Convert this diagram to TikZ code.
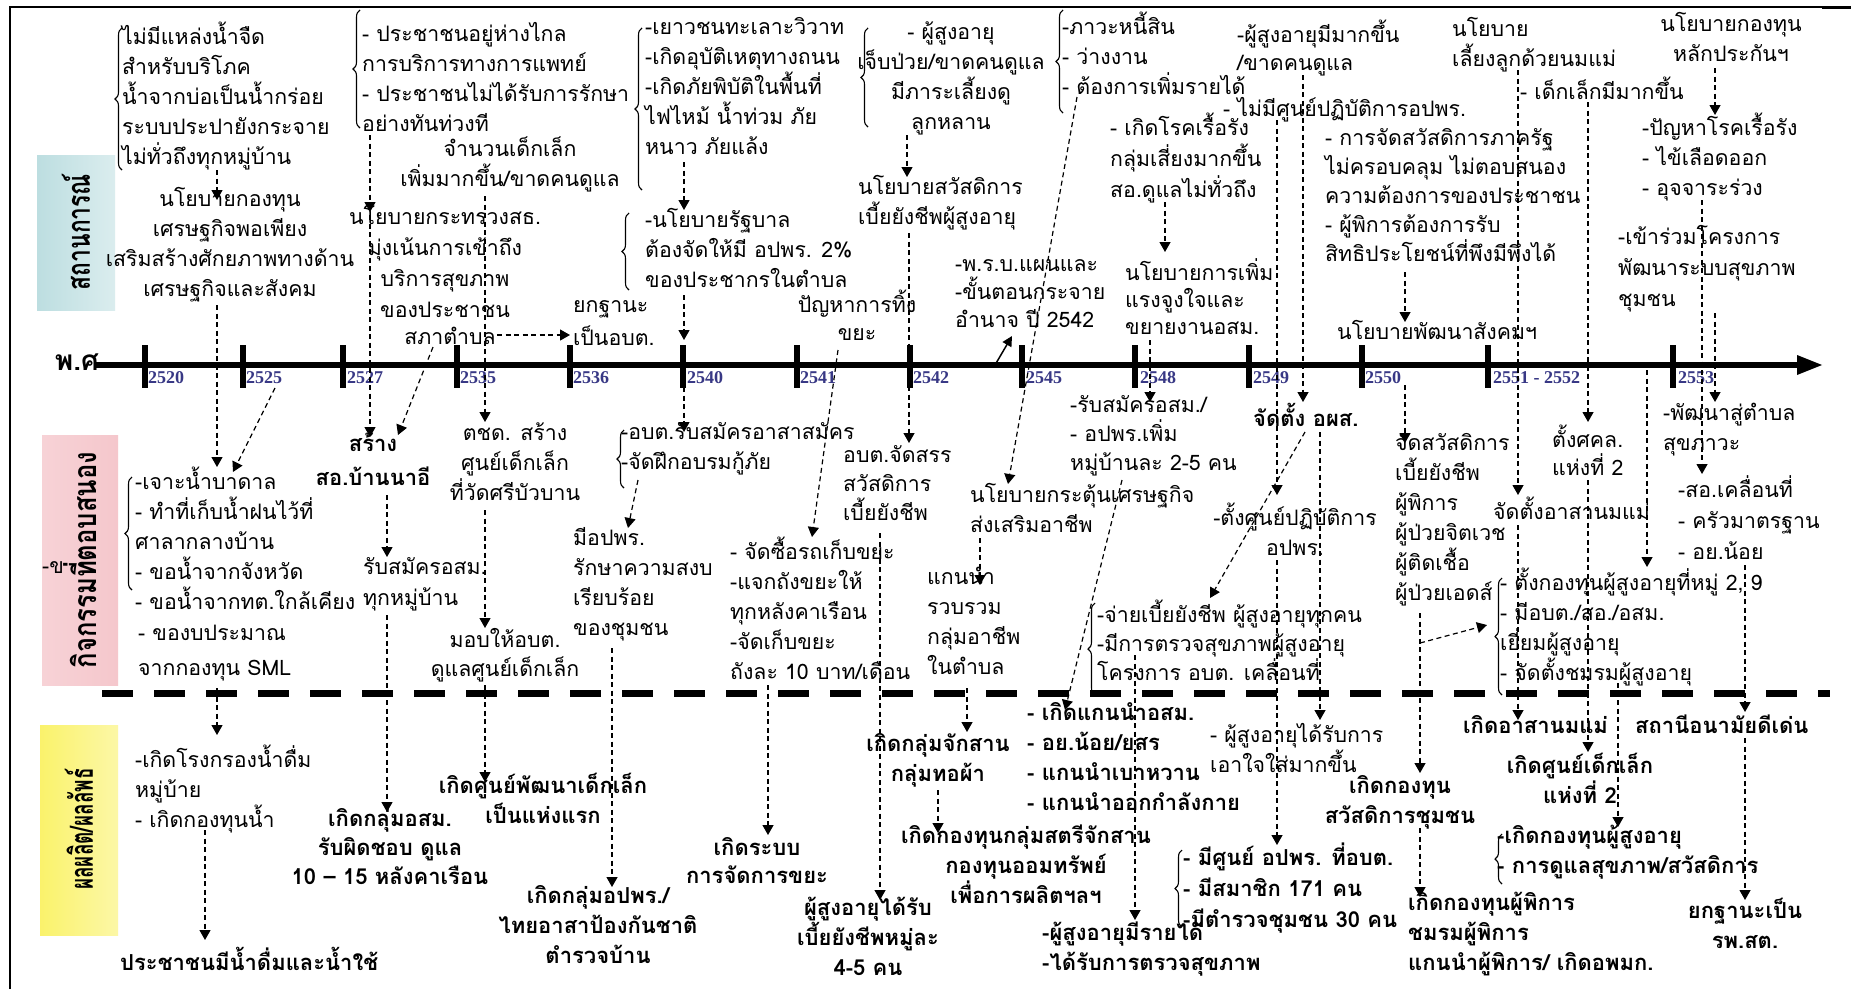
\documentclass[tikz,border=0pt]{standalone}
\usepackage{fontspec}
\usepackage{graphicx}
\usetikzlibrary{arrows.meta,decorations.pathreplacing}
\newfontfamily\thai[Script=Thai]{Loma}
\newfontfamily\thaicond[Script=Thai,FakeStretch=0.8]{Loma}
\newfontfamily\yrfont{Liberation Serif}
\newcommand\fs[1]{\thai\fontsize{21.3}{#1}\selectfont}
\newcommand\fsb[1]{\thai\bfseries\fontsize{22}{#1}\selectfont}
\definecolor{yr}{rgb}{0.22,0.22,0.52}
\definecolor{tealbox}{rgb}{0.74,0.87,0.88}
\definecolor{pinkbox}{rgb}{0.96,0.78,0.80}
\definecolor{yelbox}{rgb}{0.98,0.95,0.42}
\tikzset{
  tl/.style={inner sep=0pt, anchor=north west, align=left, font=\fs{30}, execute at begin node=\rule{0pt}{21pt}},
  tc/.style={inner sep=0pt, anchor=north, align=center, font=\fs{30}, execute at begin node=\rule{0pt}{21pt}},
  sp/.style={font=\fs{#1}},
  bsp/.style={font=\fsb{#1}},
  yrlab/.style={inner sep=0pt, anchor=west, text=yr, font=\yrfont\bfseries\fontsize{18}{18}\selectfont},
  cat/.style={rotate=90, inner sep=0pt, font=\thaicond\bfseries\fontsize{32}{32}\selectfont},
  arr/.style={line width=1.2pt, dash pattern=on 5pt off 3.5pt, -{Triangle[length=10pt,width=11pt]}},
  sarr/.style={line width=1.5pt, -{Triangle[length=10pt,width=10pt]}},
  brc/.style={decorate, decoration={brace, amplitude=7pt}, line width=1.1pt},
  tick/.style={line width=6pt},
}
\begin{document}
\begin{tikzpicture}[x=1pt,y=-1pt]
\useasboundingbox (0,0) rectangle (1851,989);
\fill[white] (0,0) rectangle (1851,989);
% frame
\draw[line width=1.5pt] (10,989) -- (10,7) -- (1851,7);
\draw[line width=3pt] (1822,7) -- (1851,7);
% category boxes
\shade[left color=tealbox, right color=tealbox!55!white] (37,155) rectangle (115,310);
\shade[left color=pinkbox!80!white, right color=pinkbox] (42,435) rectangle (118,685);
\shade[left color=yelbox, right color=yelbox!60!white] (40,725) rectangle (118,935);
\node[cat] (catA) at (76,232) {\scalebox{0.89}[1]{สถานการณ์}};
\node[cat] (catB) at (80,560) {กิจกรรมที่ตอบสนอง};
\node[cat] (catC) at (79,829) {\scalebox{0.74}[1]{ผลผลิต/ผลลัพธ์}};
\node[inner sep=0pt, font=\fs{20}] (kh) at (53,568) {-ข};
% axis
\draw[line width=6pt] (95,365) -- (1800,365);
\fill (1797,355) -- (1822,365) -- (1797,375) -- cycle;
\node[inner sep=0pt, font=\thai\bfseries\fontsize{28}{28}\selectfont] (pso) at (77,362) {พ.ศ};
\foreach \x in {145,243,343,457,570,683,797,910,1022,1135,1249,1362,1488,1673}
  \draw[tick] (\x,345) -- (\x,388);
\node[yrlab] (y1) at (148,378) {2520};
\node[yrlab] (y2) at (246,378) {2525};
\node[yrlab] (y3) at (347,378) {2527};
\node[yrlab] (y4) at (460,378) {2535};
\node[yrlab] (y5) at (573,378) {2536};
\node[yrlab] (y6) at (687,378) {2540};
\node[yrlab] (y7) at (800,378) {2541};
\node[yrlab] (y8) at (913,378) {2542};
\node[yrlab] (y9) at (1026,378) {2545};
\node[yrlab] (y10) at (1140,378) {2548};
\node[yrlab] (y11) at (1253,378) {2549};
\node[yrlab] (y12) at (1365,378) {2550};
\node[yrlab] (y13) at (1493,378) {2551 - 2552};
\node[yrlab] (y14) at (1678,378) {2553};
% separator
\draw[line width=7pt, dash pattern=on 31pt off 21pt] (102,693) -- (1830,693);

% ===== top section =====
\node[tl] (nA) at (122,22) {ไม่มีแหล่งน้ำจืด\\สำหรับบริโภค\\น้ำจากบ่อเป็นน้ำกร่อย\\ระบบประปายังกระจาย\\ไม่ทั่วถึงทุกหมู่บ้าน};
\node[tc] (nB) at (230,187) {นโยบายกองทุน\\เศรษฐกิจพอเพียง\\เสริมสร้างศักยภาพทางด้าน\\เศรษฐกิจและสังคม};
\node[tl] (nC) at (362,22) {- ประชาชนอยู่ห่างไกล\\การบริการทางการแพทย์\\- ประชาชนไม่ได้รับการรักษา\\อย่างทันท่วงที};
\node[tc] (nC2) at (510,137) {จำนวนเด็กเล็ก\\เพิ่มมากขึ้น/ขาดคนดูแล};
\node[tl] (nD) at (645,17) {-เยาวชนทะเลาะวิวาท\\-เกิดอุบัติเหตุทางถนน\\-เกิดภัยพิบัติในพื้นที่\\ไฟไหม้ น้ำท่วม ภัย\\หนาว ภัยแล้ง};
\node[tc, sp=31] (nE) at (445,205) {นโยบายกระทรวงสธ.\\มุ่งเน้นการเข้าถึง\\บริการสุขภาพ\\ของประชาชน};
\node[tc] (nE2) at (450,323) {สภาตำบล};
\node[tl, sp=33] (nF) at (573,300) {ยกฐานะ\\เป็นอบต.};
\node[tl] (nG) at (645,208) {-นโยบายรัฐบาล\\ต้องจัดให้มี อปพร. 2\%\\ของประชากรในตำบล};
\node[tc, sp=28] (nH) at (857,290) {ปัญหาการทิ้ง\\ขยะ};
\node[tc] (nI) at (951,22) {- ผู้สูงอายุ\\เจ็บป่วย/ขาดคนดูแล\\มีภาระเลี้ยงดู\\ลูกหลาน};
\node[tl] (nI2) at (858,175) {นโยบายสวัสดิการ\\เบี้ยยังชีพผู้สูงอายุ};
\node[tl] (nJ) at (1062,12) {-ภาวะหนี้สิน\\- ว่างงาน\\- ต้องการเพิ่มรายได้};
\node[tl, sp=28] (nK) at (1237,20) {-ผู้สูงอายุมีมากขึ้น\\/ขาดคนดูแล};
\node[tl] (nK2) at (1223,95) {- ไม่มีศูนย์ปฏิบัติการอปพร.};
\node[tl, sp=31] (nL) at (1110,113) {- เกิดโรคเรื้อรัง\\กลุ่มเสี่ยงมากขึ้น\\สอ.ดูแลไม่ทั่วถึง};
\node[tl, sp=27] (nM) at (1125,258) {นโยบายการเพิ่ม\\แรงจูงใจและ\\ขยายงานอสม.};
\node[tl, sp=28] (nN) at (955,259) {-พ.ร.บ.แผนและ\\-ขั้นตอนกระจาย\\อำนาจ ปี 2542};
\node[tl, sp=29] (nO) at (1325,128) {- การจัดสวัสดิการภาครัฐ\\ไม่ครอบคลุม ไม่ตอบสนอง\\ความต้องการของประชาชน\\- ผู้พิการต้องการรับ\\สิทธิประโยชน์ที่พึงมีพึงได้};
\node[tl] (nP) at (1337,318) {นโยบายพัฒนาสังคมฯ};
\node[tl] (nQ) at (1452,17) {นโยบาย\\เลี้ยงลูกด้วยนมแม่};
\node[tl] (nR) at (1520,77) {- เด็กเล็กมีมากขึ้น};
\node[tc] (nS) at (1731,12) {นโยบายกองทุน\\หลักประกันฯ};
\node[tl] (nT) at (1642,113) {-ปัญหาโรคเรื้อรัง\\- ไข้เลือดออก\\- อุจจาระร่วง};
\node[tl, sp=31] (nU) at (1618,225) {-เข้าร่วมโครงการ\\พัฒนาระบบสุขภาพ\\ชุมชน};

% ===== middle section =====
\node[tl] (ma1) at (135,467) {-เจาะน้ำบาดาล\\- ทำที่เก็บน้ำฝนไว้ที่\\ศาลากลางบ้าน\\- ขอน้ำจากจังหวัด\\- ขอน้ำจากทต.ใกล้เคียง};
\node[tl, sp=35] (ma2) at (138,625) {- ของบประมาณ\\จากกองทุน SML};
\node[tc, bsp=34] (mb) at (373,433) {สร้าง\\สอ.บ้านนาอี};
\node[tl, sp=31] (mc) at (363,557) {รับสมัครอสม.\\ทุกหมู่บ้าน};
\node[tc] (md) at (515,423) {ตชด. สร้าง\\ศูนย์เด็กเล็ก\\ที่วัดศรีบัวบาน};
\node[tc, sp=29] (me) at (505,628) {มอบให้อบต.\\ดูแลศูนย์เด็กเล็ก};
\node[tl] (mf) at (621,422) {-อบต.รับสมัครอาสาสมัคร\\-จัดฝึกอบรมกู้ภัย};
\node[tl] (mg) at (573,527) {มีอปพร.\\รักษาความสงบ\\เรียบร้อย\\ของชุมชน};
\node[tl] (mh) at (730,537) {- จัดซื้อรถเก็บขยะ\\-แจกถังขยะให้\\ทุกหลังคาเรือน\\-จัดเก็บขยะ\\ถังละ 10 บาท/เดือน};
\node[tl, sp=29] (mi) at (843,445) {อบต.จัดสรร\\สวัสดิการ\\เบี้ยยังชีพ};
\node[tl] (mj) at (927,567) {แกนนำ\\รวบรวม\\กลุ่มอาชีพ\\ในตำบล};
\node[tl] (mk) at (970,483) {นโยบายกระตุ้นเศรษฐกิจ\\ส่งเสริมอาชีพ};
\node[tl, sp=29] (ml) at (1070,395) {-รับสมัครอสม./\\- อปพร.เพิ่ม\\หมู่บ้านละ 2-5 คน};
\node[tl, sp=29] (mm) at (1097,600) {-จ่ายเบี้ยยังชีพ ผู้สูงอายุทุกคน\\-มีการตรวจสุขภาพผู้สูงอายุ\\โครงการ อบต. เคลื่อนที่};
\node[tl, bsp=30] (mn) at (1253,403) {จัดตั้ง อผส.};
\node[tc] (mo) at (1295,503) {-ตั้งศูนย์ปฏิบัติการ\\อปพร.};
\node[tl] (mp) at (1395,433) {จัดสวัสดิการ\\เบี้ยยังชีพ\\ผู้พิการ\\ผู้ป่วยจิตเวช\\ผู้ติดเชื้อ\\ผู้ป่วยเอดส์};
\node[tl] (mq) at (1493,497) {จัดตั้งอาสานมแม่};
\node[tl, sp=28] (mr) at (1552,425) {ตั้งศคล.\\แห่งที่ 2};
\node[tl] (mt) at (1500,568) {- ตั้งกองทุนผู้สูงอายุที่หมู่ 2, 9\\- มีอบต./สอ./อสม.\\เยี่ยมผู้สูงอายุ\\- จัดตั้งชมรมผู้สูงอายุ};
\node[tl] (mu) at (1663,403) {-พัฒนาสู่ตำบล\\สุขภาวะ};
\node[tl, sp=31] (mv) at (1678,475) {-สอ.เคลื่อนที่\\- ครัวมาตรฐาน\\- อย.น้อย};

% ===== bottom section =====
\node[tl] (b1) at (135,745) {-เกิดโรงกรองน้ำดื่ม\\หมู่บ้าย\\- เกิดกองทุนน้ำ};
\node[tl, bsp=30] (bw) at (120,947) {ประชาชนมีน้ำดื่มและน้ำใช้};
\node[tc, bsp=29] (b2) at (390,808) {เกิดกลุ่มอสม.\\รับผิดชอบ ดูแล\\10 – 15 หลังคาเรือน};
\node[tc, bsp=30] (b3) at (543,773) {เกิดศูนย์พัฒนาเด็กเล็ก\\เป็นแห่งแรก};
\node[tc, bsp=30] (b4) at (598,885) {เกิดกลุ่มอปพร./\\ไทยอาสาป้องกันชาติ\\ตำรวจบ้าน};
\node[tc, bsp=28] (b5) at (757,837) {เกิดระบบ\\การจัดการขยะ};
\node[tc, bsp=30] (b6) at (868,897) {ผู้สูงอายุได้รับ\\เบี้ยยังชีพหมู่ละ\\4-5 คน};
\node[tc, bsp=30] (b7) at (938,733) {เกิดกลุ่มจักสาน\\กลุ่มทอผ้า};
\node[tc, bsp=30] (b8) at (1026,825) {เกิดกองทุนกลุ่มสตรีจักสาน\\กองทุนออมทรัพย์\\เพื่อการผลิตฯลฯ};
\node[tl, bsp=30] (b9) at (1027,702) {- เกิดแกนนำอสม.\\- อย.น้อย/ยสร\\- แกนนำเบาหวาน\\- แกนนำออกกำลังกาย};
\node[tl] (b10) at (1210,723) {- ผู้สูงอายุได้รับการ\\เอาใจใส่มากขึ้น};
\node[tc, bsp=30] (b11) at (1400,775) {เกิดกองทุน\\สวัสดิการชุมชน};
\node[tl, bsp=31] (b12) at (1183,843) {- มีศูนย์ อปพร. ที่อบต.\\- มีสมาชิก 171 คน\\-มีตำรวจชุมชน 30 คน};
\node[tl, bsp=30] (b13) at (1042,922) {-ผู้สูงอายุมีรายได้\\-ได้รับการตรวจสุขภาพ};
\node[tl, bsp=30] (b14) at (1408,892) {เกิดกองทุนผู้พิการ\\ชมรมผู้พิการ\\แกนนำผู้พิการ/ เกิดอพมก.};
\node[tl, bsp=30] (b15) at (1463,712) {เกิดอาสานมแม่};
\node[tl, bsp=30] (b16) at (1635,712) {สถานีอนามัยดีเด่น};
\node[tc, bsp=30] (b17) at (1580,753) {เกิดศูนย์เด็กเล็ก\\แห่งที่ 2};
\node[tl, bsp=30] (b18) at (1497,825) {-เกิดกองทุนผู้สูงอายุ\\- การดูแลสุขภาพ/สวัสดิการ};
\node[tc, bsp=30] (b19) at (1745,898) {ยกฐานะเป็น\\รพ.สต.};

% ===== braces =====
\draw[brc] (122,170) -- (122,28);
\draw[brc] (360,128) -- (360,10);
\draw[brc] (642,190) -- (642,28);
\draw[brc] (629,290) -- (629,213);
\draw[brc] (868,127) -- (868,28);
\draw[brc] (1063,113) -- (1063,10);
\draw[brc] (624,488) -- (624,430);
\draw[brc] (132,590) -- (132,477);
\draw[brc] (1095,695) -- (1095,603);
\draw[brc] (1502,695) -- (1502,578);
\draw[brc] (1182,927) -- (1182,850);
\draw[brc] (1502,884) -- (1502,834);

% ===== connector end points =====
\path (217,170) coordinate (c1s)  (217,200) coordinate (c1e)
      (217,305) coordinate (c2s)  (217,467) coordinate (c2e)
      (275,388) coordinate (c3s)  (233,472) coordinate (c3e)
      (370,135) coordinate (c4s)  (370,212) coordinate (c4e)
      (370,215) coordinate (c5s)  (370,437) coordinate (c5e)
      (485,196) coordinate (c6s)  (485,422) coordinate (c6e)
      (497,335) coordinate (c7s)  (570,335) coordinate (c7e)
      (433,347) coordinate (c8s)  (398,435) coordinate (c8e)
      (684,162) coordinate (c9s)  (684,210) coordinate (c9e)
      (684,295) coordinate (c10s) (684,340) coordinate (c10e)
      (684,370) coordinate (c11s) (684,432) coordinate (c11e)
      (838,350) coordinate (c12s) (812,537) coordinate (c12e)
      (907,135) coordinate (c13s) (907,177) coordinate (c13e)
      (909,233) coordinate (c14s) (909,443) coordinate (c14e)
      (1077,97) coordinate (c15s) (1008,484) coordinate (c15e)
      (995,365) coordinate (c16s) (1012,336) coordinate (c16e)
      (1165,202) coordinate (c17s) (1165,252) coordinate (c17e)
      (1150,340) coordinate (c18s) (1150,402) coordinate (c18e)
      (1303,75) coordinate (c19s) (1303,402) coordinate (c19e)
      (1277,120) coordinate (c20s) (1277,495) coordinate (c20e)
      (1277,560) coordinate (c21s) (1277,845) coordinate (c21e)
      (1305,432) coordinate (c22s) (1210,598) coordinate (c22e)
      (1320,432) coordinate (c23s) (1320,720) coordinate (c23e)
      (1405,272) coordinate (c24s) (1405,322) coordinate (c24e)
      (1405,385) coordinate (c25s) (1405,443) coordinate (c25e)
      (1518,70) coordinate (c26s) (1518,495) coordinate (c26e)
      (1518,525) coordinate (c27s) (1518,720) coordinate (c27e)
      (1588,102) coordinate (c28s) (1588,422) coordinate (c28e)
      (1588,480) coordinate (c29s) (1588,752) coordinate (c29e)
      (1715,68) coordinate (c30s) (1715,115) coordinate (c30e)
      (1702,200) coordinate (c31s) (1702,474) coordinate (c31e)
      (1715,313) coordinate (c32s) (1715,402) coordinate (c32e)
      (1647,370) coordinate (c33s) (1647,567) coordinate (c33e)
      (1745,565) coordinate (c34s) (1745,712) coordinate (c34e)
      (1745,738) coordinate (c35s) (1745,900) coordinate (c35e)
      (217,688) coordinate (c36s) (217,735) coordinate (c36e)
      (205,830) coordinate (c37s) (205,940) coordinate (c37e)
      (387,495) coordinate (c38s) (387,557) coordinate (c38e)
      (387,615) coordinate (c39s) (387,812) coordinate (c39e)
      (485,510) coordinate (c40s) (485,628) coordinate (c40e)
      (485,685) coordinate (c41s) (485,782) coordinate (c41e)
      (638,480) coordinate (c42s) (628,528) coordinate (c42e)
      (612,648) coordinate (c43s) (612,887) coordinate (c43e)
      (768,685) coordinate (c44s) (768,835) coordinate (c44e)
      (880,533) coordinate (c45s) (880,900) coordinate (c45e)
      (980,538) coordinate (c46s) (980,585) coordinate (c46e)
      (967,688) coordinate (c47s) (967,732) coordinate (c47e)
      (938,790) coordinate (c48s) (938,833) coordinate (c48e)
      (1122,480) coordinate (c49s) (1065,710) coordinate (c49e)
      (1135,655) coordinate (c50s) (1135,920) coordinate (c50e)
      (1420,613) coordinate (c51s) (1420,773) coordinate (c51e)
      (1420,643) coordinate (c52s) (1487,625) coordinate (c52e)
      (1420,828) coordinate (c53s) (1420,897) coordinate (c53e)
      (1618,683) coordinate (c54s) (1618,827) coordinate (c54e);
\foreach \i in {1,...,15,17,18,...,54}
  \draw[arr] (c\i s) -- (c\i e);
\draw[sarr] (c16s) -- (c16e);
\end{tikzpicture}
\end{document}
